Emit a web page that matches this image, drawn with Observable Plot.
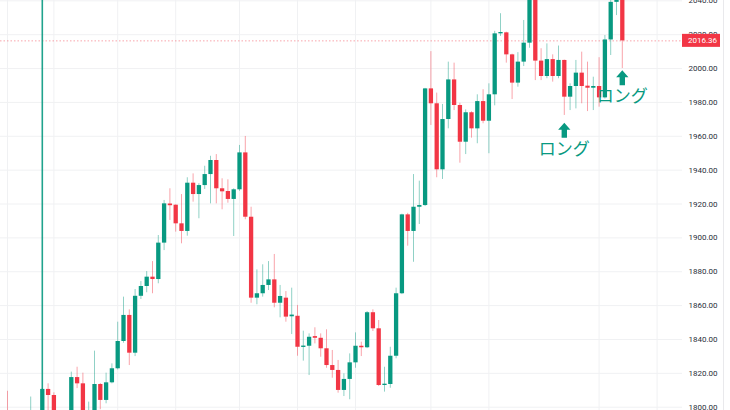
<!DOCTYPE html>
<html><head><meta charset="utf-8">
<script src="https://cdn.jsdelivr.net/npm/d3@7"></script>
<script src="https://cdn.jsdelivr.net/npm/@observablehq/plot@0.6"></script>
<style>html,body{margin:0;padding:0;background:#fff;overflow:hidden}</style>
</head><body><div id="chart"></div><script>
// OHLC candles, left to right (index 0..106)
const open  = [1797,1790,1794,1789,1793,1797,1792,1810.5,1806.9,1794,1790,1796,1817.5,1813.8,1796,1795,1813.4,1804,1814.4,1822.7,1838.8,1854.2,1831.9,1865.5,1871.3,1876.8,1875.4,1896.9,1920,1919.3,1908.3,1903.8,1932.3,1925.6,1930.9,1937.4,1945.7,1929,1927.4,1922.7,1928.4,1950.2,1912.2,1864.4,1867,1871.9,1875.2,1861.4,1864.4,1853.4,1853.7,1835.3,1836,1841.7,1840.7,1834.5,1824.6,1821.7,1809.9,1816.4,1826.2,1836,1835.1,1855.8,1846.3,1812.8,1813.4,1830.1,1867,1913.6,1903.8,1918.1,1919.1,1988,1979.2,1940.2,1969.9,1993.3,1978.2,1956.5,1973.9,1964.4,1980.5,1968.9,1984.5,2020.5,2021.1,2008.1,1991.4,2003.8,2015,2045,2004.4,1995.3,2005.3,1995.3,2004.8,1983.1,1989.4,1997.3,1989.6,1988.4,1989.4,1982.7,2016.9,2039.1,2044];
const high  = [1809.4,1797,1797,1796,1806,1797.5,1811,1813.8,1808.5,1797,1797.5,1820.7,1823.6,1820.1,1803,1833.1,1814,1820.1,1825.6,1850.2,1865,1857.5,1869.5,1874.2,1880.1,1886,1901.4,1922.1,1929,1919.5,1925.6,1935.5,1937.8,1932,1942.3,1948.2,1949.2,1934.9,1934.3,1929,1954.6,1959.9,1918.1,1881.1,1884.1,1886,1890.2,1871.9,1868.3,1870.3,1860.1,1844.9,1843.3,1846.9,1843.3,1845.7,1833.5,1827.6,1819.7,1831.5,1843.9,1838.4,1856.5,1857.5,1851.2,1823.6,1835.4,1870.3,1914,1914.5,1937.4,1933.5,1988.3,2010,1985.5,1978.8,2003.8,2003.2,1979.5,1975.6,1974.5,1984.5,1987.5,1991,2022,2032.4,2021.5,2008.5,2009.4,2028.4,2048,2048,2011.7,2014.6,2008.1,2013.3,2005,1991,2004.8,2009.7,2003.8,1994.9,2006.4,2019.5,2041,2046,2045];
const low   = [1786,1785,1784,1786,1790,1788,1790,1796,1790,1786,1788,1794,1811,1792,1793,1793,1798.5,1802,1813.8,1822,1837.8,1824.6,1829.9,1863.6,1867.6,1867,1872.9,1892.5,1910.3,1903.4,1896.5,1901,1921.1,1911.3,1928.6,1920.1,1920.1,1916.6,1920.5,1900.8,1927.5,1910.7,1861.4,1860.5,1865,1868.9,1858.7,1852.8,1850.2,1842.9,1830.1,1827.2,1818.7,1837.4,1829.5,1823,1817.1,1808.3,1806.3,1804.4,1823,1829.9,1834.6,1844.7,1812.2,1808.9,1811.2,1828.6,1866.5,1895.1,1885.6,1907.9,1918.5,1966.4,1935.5,1934.5,1964.4,1975.2,1944.1,1949.2,1958.9,1955.6,1967.4,1949.7,1978,2019,2003.2,1981.7,1989,2001.2,2012,1992.9,1992.9,1994,1992,1994,1972.3,1975.2,1976.2,1979.2,1974.6,1975.2,1977.2,1982,2007.7,2031.3,2000];
const close = [1790,1794,1789,1793,1797,1792,1810.5,1806.9,1794,1790,1796,1817.5,1813.8,1796,1797.5,1813.4,1804,1814.4,1822.7,1838.8,1854.2,1831.9,1865.5,1871.3,1876.8,1875.4,1896.9,1920.1,1919,1908.3,1903.8,1932.3,1925.6,1930.9,1937.4,1945.7,1929,1927.2,1922.7,1928.4,1950.2,1912.2,1864.4,1867,1871.9,1875.2,1861.4,1865.4,1853.2,1854.4,1835.4,1836.1,1841.3,1840.7,1834.5,1824.6,1821.7,1809.9,1816.4,1826.2,1836,1835.1,1855.8,1846.3,1812.8,1813.6,1830.1,1867,1913.6,1903.8,1918.1,1919.1,1988,1979.2,1940.2,1969.9,1993.3,1978.2,1956.5,1973.9,1964.4,1980.5,1968.9,1984.5,2020.5,2021.3,2008.1,1991.4,2003.8,2015,2045,2004.4,1995.3,2005.3,1995.3,2004.8,1983.1,1989.4,1997.3,1989.4,1988.4,1989.4,1982.7,2016.9,2039.1,2044,2016.36];

const priceTicks = [1800,1820,1840,1860,1880,1900,1920,1940,1960,1980,2000,2020,2040];
const timeGridIdx = [0,8,19,29,40,50,60,73,83,102,112];
const verticalLineIdx = 6;
const lastPrice = 2016.36;
const longIdx = [96, 106];
const longArrowPrice = [1963.6, 1994.6];
const longText = ["ロング", "ロング"];

const UP = "#089981", DOWN = "#f23645";
const candles = open.map((o, i) => ({i, o, h: high[i], l: low[i], c: close[i], color: close[i] >= o ? UP : DOWN}));
const longs = longIdx.map((i, k) => ({i, p: longArrowPrice[k], t: longText[k]}));

// layout
const W = 730, H = 410, plotRight = 682;
const firstPx = 7, step = 5.8;
const xDomain = [-firstPx / step, (plotRight - firstPx) / step];
const borderIdx = (723 - firstPx) / step;

const arrowSymbol = {
  draw(ctx, size) {
    const s = Math.sqrt(size / Math.PI);
    ctx.moveTo(0, -s);
    ctx.lineTo(0.82 * s, -0.05 * s);
    ctx.lineTo(0.36 * s, -0.05 * s);
    ctx.lineTo(0.36 * s, s);
    ctx.lineTo(-0.36 * s, s);
    ctx.lineTo(-0.36 * s, -0.05 * s);
    ctx.lineTo(-0.82 * s, -0.05 * s);
    ctx.closePath();
  }
};

const chart = Plot.plot({
  width: W, height: H,
  marginLeft: 0, marginRight: W - plotRight, marginTop: 0, marginBottom: 0,
  style: {fontFamily: "Roboto, sans-serif", fontSize: "8px", color: "#2a2e39", background: "#fff", overflow: "visible"},
  x: {type: "linear", domain: xDomain, axis: null},
  y: {domain: [1798.05, 2040.2], axis: "right", ticks: priceTicks, tickFormat: d => d.toFixed(2), tickSize: 0, tickPadding: 6, label: null},
  color: {type: "identity"},
  marks: [
    Plot.ruleY(priceTicks, {stroke: "#f0f1f3"}),
    Plot.ruleX(timeGridIdx, {stroke: "#f0f1f3"}),
    Plot.ruleX([borderIdx], {stroke: "#e9e9ec", clip: false}),
    Plot.ruleY([lastPrice], {stroke: DOWN, strokeOpacity: 0.45, strokeDasharray: "1.5,2"}),
    Plot.ruleX([verticalLineIdx], {stroke: UP, strokeWidth: 1.6, strokeOpacity: 0.9}),
    Plot.ruleX(candles, {x: "i", y1: "l", y2: "h", stroke: "color", strokeOpacity: 0.45, clip: true}),
    Plot.ruleX(candles, {x: "i", y1: "o", y2: "c", stroke: "color", strokeWidth: 4.3, clip: true}),
    Plot.dot(longs, {x: "i", y: "p", r: 7.5, symbol: arrowSymbol, fill: UP}),
    Plot.text(longs, {x: "i", y: "p", dy: 19, text: "t", fontSize: 17, fill: UP, fontFamily: "Noto Sans CJK JP"})
  ]
});

document.getElementById("chart").appendChild(chart);

// last-price label on the price scale
const ys = chart.scale("y");
const yS = d3.scaleLinear(ys.domain, ys.range);
const g = d3.select(chart).append("g");
g.append("rect").attr("x", plotRight).attr("y", yS(lastPrice) - 6.5).attr("width", 38).attr("height", 13).attr("fill", DOWN);
g.append("text").attr("x", plotRight + 6).attr("y", yS(lastPrice)).attr("dy", "0.35em")
  .attr("text-anchor", "start")
  .attr("fill", "#fff").attr("font-family", "Roboto, sans-serif").attr("font-size", 8).text(lastPrice.toFixed(2));
</script></body></html>
